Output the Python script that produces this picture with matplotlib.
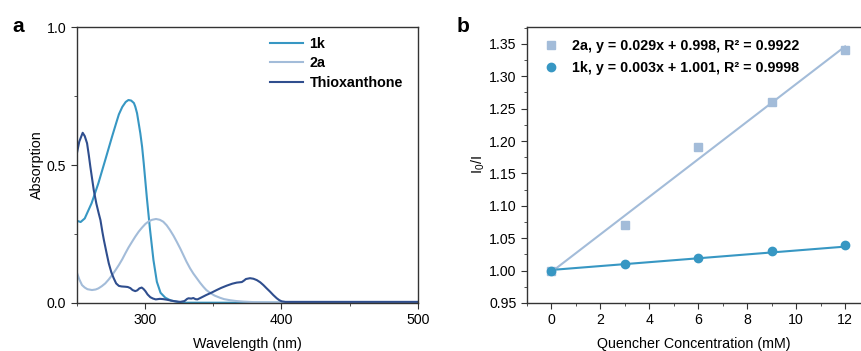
import numpy as np
import matplotlib
matplotlib.use("Agg")
import matplotlib.pyplot as plt
from matplotlib.ticker import MultipleLocator

plt.rcParams['font.family'] = ['Liberation Sans', 'DejaVu Sans']
plt.rcParams['mathtext.fontset'] = 'custom'
plt.rcParams['mathtext.rm'] = 'Liberation Sans'

# ---------------- Panel a data (UV-Vis absorption) ----------------
wl_1k = [250, 253, 256, 261, 266, 271, 276, 279, 281, 283.5, 286, 288, 290, 292, 293, 294.3,
         296.7, 298, 299.2, 301.5, 303.7, 306.3, 308.8, 311.5, 315, 319, 325, 330, 350,
         400, 450, 500]
abs_1k = [0.298, 0.293, 0.306, 0.361, 0.434, 0.518, 0.603, 0.652, 0.684, 0.711, 0.729, 0.736,
          0.734, 0.725, 0.712, 0.688, 0.615, 0.566, 0.506, 0.38, 0.27, 0.155, 0.076,
          0.036, 0.018, 0.008, 0.002, 0.0, 0.0, 0.0, 0.0, 0.0]

wl_2a = [250, 252, 254, 256, 258, 261.3, 264, 266, 268.5, 271, 273.5, 276, 278.5, 281,
         283.5, 285.7, 288, 290.6, 293, 295.5, 298, 300.4, 303, 305.3, 308.2, 311, 313.5,
         316, 318.4, 321, 323.4, 326, 328.2, 330.5, 333.1, 335.5, 338, 340.5, 342.8, 345,
         347.7, 351, 355, 358, 362.4, 367, 372, 380, 400, 500]
abs_2a = [0.113, 0.085, 0.064, 0.055, 0.049, 0.046, 0.048, 0.052, 0.06, 0.07, 0.084, 0.10,
          0.118, 0.137, 0.158, 0.179, 0.20, 0.221, 0.24, 0.258, 0.273, 0.286, 0.296, 0.301,
          0.304, 0.301, 0.294, 0.281, 0.264, 0.243, 0.221, 0.196, 0.173, 0.149, 0.125,
          0.106, 0.089, 0.072, 0.058, 0.046, 0.036, 0.026, 0.018, 0.013, 0.009, 0.006,
          0.004, 0.002, 0.001, 0.001]

wl_tx = [250, 252, 254.5, 256, 257.7, 259, 260.1, 262.6, 264.5, 266.2, 267.5, 269, 270,
         272, 273.6, 275.5, 277.2, 279, 281, 283, 285.7, 287.5, 289.4, 291, 293, 294.5,
         296, 297.7, 299, 300.4, 302, 304, 306, 308, 311, 313.5, 316, 318, 321, 324, 326,
         329, 331, 332, 334, 335.5, 337, 338.5, 341, 345, 349, 352.6, 356, 360, 364, 367.3,
         371, 372.5, 374, 377, 379.5, 382, 384.5, 386.8, 389, 391.7, 394, 396.6, 398.5,
         400.2, 403, 450, 500]
abs_tx = [0.536, 0.585, 0.617, 0.605, 0.579, 0.535, 0.494, 0.409, 0.36, 0.325, 0.30, 0.255,
          0.228, 0.18, 0.143, 0.11, 0.089, 0.07, 0.061, 0.059, 0.058, 0.057, 0.053, 0.046,
          0.042, 0.045, 0.052, 0.055, 0.05, 0.042, 0.03, 0.02, 0.015, 0.012, 0.014, 0.013,
          0.011, 0.009, 0.006, 0.004, 0.003, 0.006, 0.014, 0.016, 0.015, 0.017, 0.013,
          0.012, 0.018, 0.028, 0.037, 0.046, 0.054, 0.062, 0.069, 0.073, 0.075, 0.08,
          0.086, 0.089, 0.087, 0.082, 0.074, 0.064, 0.053, 0.04, 0.028, 0.016, 0.009,
          0.005, 0.003, 0.003, 0.003]

series_a_labels = ["1k", "2a", "Thioxanthone"]

# ---------------- Panel b data (Stern-Volmer) ----------------
conc = [0, 3, 6, 9, 12]
ratio_2a = [1.00, 1.07, 1.19, 1.26, 1.34]
ratio_1k = [1.00, 1.01, 1.02, 1.03, 1.04]
fit_slope = {"2a": 0.029, "1k": 0.003}
fit_intercept = {"2a": 0.998, "1k": 1.001}
legend_b = ["2a, y = 0.029x + 0.998, R\u00b2 = 0.9922",
            "1k, y = 0.003x + 1.001, R\u00b2 = 0.9998"]

c_1k = "#3797c3"
c_2a = "#a3bcd9"
c_tx = "#2f4e8e"
spine_c = "#333333"

FS = 10.3
TFS = 10.2

fig = plt.figure(figsize=(8.61, 3.51), dpi=100)

# ---------------- Panel a ----------------
ax1 = fig.add_axes([0.0889, 0.1376, 0.3966, 0.7846])
ax1.plot(wl_1k, abs_1k, color=c_1k, lw=1.5, label=series_a_labels[0])
ax1.plot(wl_2a, abs_2a, color=c_2a, lw=1.5, label=series_a_labels[1])
ax1.plot(wl_tx, abs_tx, color=c_tx, lw=1.5, label=series_a_labels[2])
ax1.set_xlim(250, 500)
ax1.set_ylim(0, 1.0)
ax1.set_xticks([300, 400, 500])
ax1.xaxis.set_minor_locator(MultipleLocator(50))
ax1.set_yticks([0, 0.5, 1.0])
ax1.set_yticklabels(["0.0", "0.5", "1.0"])
ax1.yaxis.set_minor_locator(MultipleLocator(0.25))
ax1.set_xlabel("Wavelength (nm)", fontsize=FS, labelpad=7)
ax1.set_ylabel("Absorption", fontsize=FS, labelpad=2)
for s in ax1.spines.values():
    s.set_color(spine_c)
    s.set_linewidth(1.0)
ax1.tick_params(which='both', direction='out', labelsize=TFS, color=spine_c)
ax1.tick_params(which='major', length=4)
ax1.tick_params(which='minor', length=2.5)
leg1 = ax1.legend(loc='upper left', bbox_to_anchor=(0.567, 0.965), frameon=False,
                  prop={'weight': 'bold', 'size': FS}, handlelength=2.3,
                  handletextpad=0.45, labelspacing=0.38, borderpad=0, borderaxespad=0)
fig.text(0.014, 0.925, "a", fontsize=15, fontweight='bold', va='center')

# ---------------- Panel b ----------------
ax2 = fig.add_axes([0.6121, 0.1368, 0.3879, 0.7863])
xfit = np.array([conc[0], conc[-1]])
ax2.plot(xfit, fit_slope["2a"] * xfit + fit_intercept["2a"], color=c_2a, lw=1.5, zorder=2)
ax2.plot(xfit, fit_slope["1k"] * xfit + fit_intercept["1k"], color=c_1k, lw=1.5, zorder=2)
ax2.plot(conc, ratio_2a, ls='none', marker='s', ms=5.2, color=c_2a, label=legend_b[0], zorder=3)
ax2.plot(conc, ratio_1k, ls='none', marker='o', ms=6, color=c_1k, label=legend_b[1], zorder=3)
ax2.set_xlim(-1, 12.65)
ax2.set_ylim(0.95, 1.376)
ax2.set_xticks([0, 2, 4, 6, 8, 10, 12])
ax2.xaxis.set_minor_locator(MultipleLocator(1))
ax2.set_yticks([0.95, 1.00, 1.05, 1.10, 1.15, 1.20, 1.25, 1.30, 1.35])
ax2.set_yticklabels(["0.95", "1.00", "1.05", "1.10", "1.15", "1.20", "1.25", "1.30", "1.35"])
ax2.yaxis.set_minor_locator(MultipleLocator(0.025))
ax2.spines['right'].set_visible(False)
for s in ax2.spines.values():
    s.set_color(spine_c)
    s.set_linewidth(1.0)
ax2.tick_params(which='both', direction='out', labelsize=TFS, color=spine_c)
ax2.tick_params(which='major', length=4)
ax2.tick_params(which='minor', length=2.5)
ax2.set_xlabel("Quencher Concentration (mM)", fontsize=FS, labelpad=7)
ax2.set_ylabel(r"I$_\mathregular{0}$/I", fontsize=FS, labelpad=1)
leg2 = ax2.legend(loc='upper left', bbox_to_anchor=(0.05, 0.955), frameon=False,
                  prop={'weight': 'bold', 'size': FS}, handlelength=1.0,
                  handletextpad=1.0, labelspacing=0.5, borderpad=0, borderaxespad=0)
fig.text(0.530, 0.925, "b", fontsize=15, fontweight='bold', va='center')

fig.savefig("out.png", dpi=100)
